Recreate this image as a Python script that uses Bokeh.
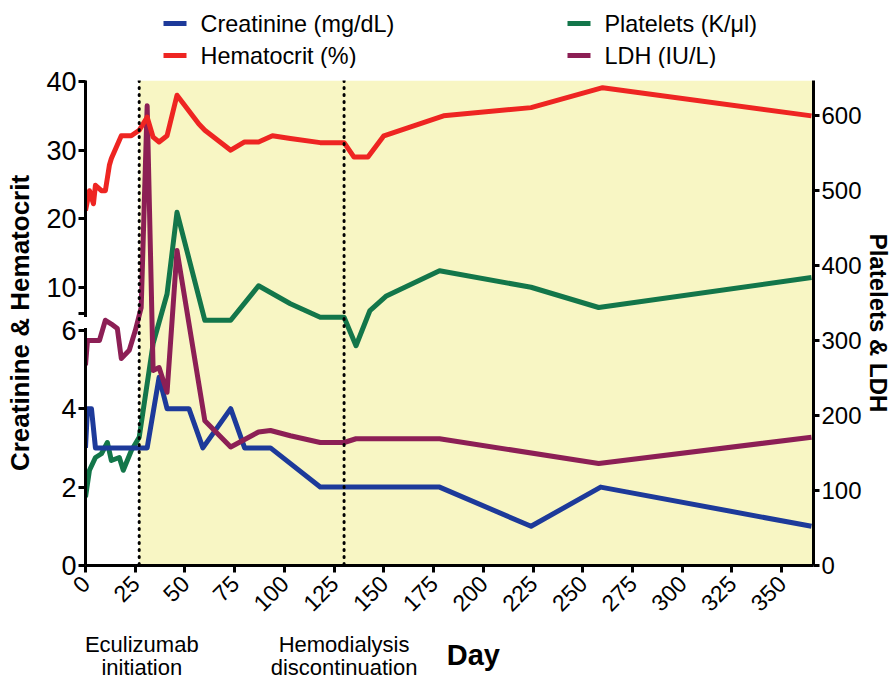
import math
from bokeh.plotting import figure
from bokeh.layouts import column
from bokeh.models import (Range1d, LinearAxis, FixedTicker, CustomJSTickFormatter,
                          Span, BoxAnnotation)
from bokeh.core.properties import value
from bokeh.embed import file_html
from bokeh.resources import INLINE

FONT = "Liberation Sans"

# ---------------- data ----------------
crea_day = [0, 1, 3, 5, 31, 37, 41, 52, 59, 73, 80, 93, 118, 178, 224, 259, 365]
crea = [3, 4, 4, 3, 3, 4.8, 4, 4, 3, 4, 3, 3, 2, 2, 1, 2, 1]

hct_day = [0, 2, 4, 5, 8, 10, 12, 13, 18, 23, 27, 31, 34, 37, 41, 46, 57, 60, 73, 80,
           87, 94, 103, 118, 130, 135, 142, 150, 180, 224, 260, 365]
hct = [21.2, 24.1, 22.2, 24.9, 24.1, 24.1, 27.8, 28.8, 32.1, 32.1, 32.9, 34.8, 31.9, 31.2,
       32.1, 38.0, 33.8, 32.9, 30.0, 31.2, 31.2, 32.1, 31.7, 31.1, 31.1, 29.0, 29.0, 32.1,
       35.0, 36.2, 39.1, 35.0]

plt_day = [0, 2, 5, 8, 11, 13, 17, 19, 23, 27, 34, 41, 46, 60, 73, 87, 103, 118, 130,
           136, 143, 151, 178, 224, 258, 365]
plt = [91, 127, 144, 149, 164, 140, 144, 127, 153, 171, 296, 362, 471, 327, 327, 373, 349,
       331, 331, 293, 340, 359, 393, 371, 344, 384]

ldh_day = [0, 1, 7, 10, 13, 16, 18, 22, 25, 28, 31, 34, 37, 41, 46, 60, 73, 87, 93, 103,
           118, 130, 136, 178, 258, 365]
ldh = [267, 300, 300, 327, 322, 316, 276, 287, 313, 344, 613, 260, 264, 231, 420, 193, 158,
       178, 180, 173, 164, 164, 169, 169, 136, 171]

series_labels = ["Creatinine (mg/dL)", "Hematocrit (%)", "Platelets (K/\u03bcl)", "LDH (IU/L)"]
C_CREA, C_HCT, C_PLT, C_LDH = "#1d3a9a", "#ee2522", "#13764a", "#8c1f55"
series_colors = [C_CREA, C_HCT, C_PLT, C_LDH]

x_ticks = list(range(0, 351, 25))
crea_ticks = [0, 2, 4, 6]
hct_ticks = [10, 20, 30, 40]
right_ticks = [0, 100, 200, 300, 400, 500, 600]

events = [27, 130]
event_line1 = ["Eculizumab", "Hemodialysis"]
event_line2 = ["initiation", "discontinuation"]
note_x = [28.3, 130]          # note centres (first nudged to stay inside the strip)
x_title = "Day"
x_title_day = 195

# ---------------- geometry ----------------
LEFT, FRAME_W, RIGHT = 85, 728, 77
TOP_H, TOP_B, FRAME_H, BOTTOM = 68, 12, 485, 64
NOTE_H = 51
CREA_END = 12.37
HCT_START, HCT_END = -30.48, 40.15
PL_END = 646.7
X_END = 366
BREAK_CAP = 6.43     # bottom of upper (hematocrit) axis segment
BREAK_MID = 6.21     # middle of the axis gap

def hct_to_crea(h):
    return (h - HCT_START) / (HCT_END - HCT_START) * CREA_END

def strip(fig):
    fig.outline_line_color = None
    fig.border_fill_color = "white"
    fig.background_fill_color = "white"
    fig.xgrid.visible = False
    fig.ygrid.visible = False
    fig.grid.grid_line_color = None

# ---------------- legend strip (top) ----------------
t = figure(frame_width=FRAME_W, frame_height=TOP_H,
           x_range=Range1d(LEFT, LEFT + FRAME_W), y_range=Range1d(TOP_H, 0),
           output_backend="svg", toolbar_location=None,
           min_border_left=LEFT, min_border_right=RIGHT, min_border_top=0,
           min_border_bottom=0, x_axis_location=None, y_axis_location=None)
strip(t)
leg_x = [163, 163, 567, 567]
leg_y = [23, 55, 23, 55]
t.segment(x0=leg_x, y0=leg_y, x1=[x + 23 for x in leg_x], y1=leg_y,
          line_color=series_colors, line_width=5)
t.text(x=[x + 37 for x in leg_x], y=leg_y, text=series_labels,
       text_baseline="middle", text_align="left", text_font=value(FONT),
       text_font_size="23.4px", text_color="black")

# ---------------- main chart ----------------
p = figure(frame_width=FRAME_W, frame_height=FRAME_H,
           x_range=Range1d(0, X_END), y_range=Range1d(0, CREA_END),
           output_backend="svg", toolbar_location=None,
           min_border_left=LEFT, min_border_top=TOP_B, min_border_right=RIGHT,
           min_border_bottom=BOTTOM)
p.extra_y_ranges = {"hct": Range1d(HCT_START, HCT_END), "pl": Range1d(0, PL_END)}
strip(p)

p.add_layout(BoxAnnotation(left=events[0], fill_color="#f8f6c4", fill_alpha=1.0,
                           line_color=None, level="underlay"))
for ev in events:
    p.add_layout(Span(location=ev, dimension="height", line_color="black",
                      line_width=3, line_dash="1 6", line_cap="round"))

p.line(plt_day, plt, y_range_name="pl", line_color=C_PLT, line_width=5, line_join="round")
p.line(crea_day, crea, line_color=C_CREA, line_width=5, line_join="round")
p.line(ldh_day, ldh, y_range_name="pl", line_color=C_LDH, line_width=5, line_join="round")
p.line(hct_day, hct, y_range_name="hct", line_color=C_HCT, line_width=5, line_join="round")

def style_axis(ax, label_size, title_size):
    ax.major_label_text_font = FONT
    ax.major_label_text_font_size = label_size
    ax.major_label_text_color = "black"
    ax.axis_label_text_font = FONT
    ax.axis_label_text_font_style = "bold"
    ax.axis_label_text_font_size = title_size
    ax.axis_label_text_color = "black"
    ax.axis_line_width = 3
    ax.axis_line_color = "black"
    ax.major_tick_line_width = 3
    ax.major_tick_line_color = "black"
    ax.major_tick_in = 0
    ax.major_tick_out = 7

xa = p.xaxis[0]
style_axis(xa, "23px", "26px")
xa.ticker = FixedTicker(ticks=x_ticks)
xa.major_label_orientation = math.pi / 4
xa.minor_tick_line_color = None
xa.major_label_standoff = 7

ya = p.yaxis[0]
style_axis(ya, "27px", "26px")
left_positions = crea_ticks + [BREAK_CAP] + [hct_to_crea(h) for h in hct_ticks]
ya.ticker = FixedTicker(ticks=left_positions, minor_ticks=[BREAK_MID])
ya.formatter = CustomJSTickFormatter(
    args=dict(ce=CREA_END, hs=HCT_START, he=HCT_END),
    code="""
    if (tick <= 6.01) { return tick.toFixed(0); }
    const h = hs + tick / ce * (he - hs);
    if (h < 9.9) { return ""; }
    return Math.round(h).toString();
    """)
ya.axis_label = "Creatinine & Hematocrit"
ya.axis_label_standoff = 8
ya.major_label_standoff = 2
ya.minor_tick_line_color = "white"
ya.minor_tick_line_width = 11
ya.minor_tick_in = 4
ya.minor_tick_out = 4

ra = LinearAxis(y_range_name="pl", ticker=FixedTicker(ticks=right_ticks),
                axis_label="Platelets & LDH")
style_axis(ra, "24px", "24px")
ra.major_tick_out = 6
ra.axis_label_standoff = 0
ra.major_label_standoff = 2
ra.minor_tick_line_color = None
p.add_layout(ra, "right")

# ---------------- notes strip (bottom), y measured down from its top ----------------
q = figure(frame_width=FRAME_W, frame_height=NOTE_H,
           x_range=p.x_range, y_range=Range1d(NOTE_H, 0),
           output_backend="svg", toolbar_location=None,
           min_border_left=LEFT, min_border_right=RIGHT, min_border_top=0,
           min_border_bottom=0, x_axis_location=None, y_axis_location=None)
strip(q)
q.text(x=note_x, y=[15] * len(note_x), text=event_line1, text_align="center",
       text_baseline="alphabetic", text_font=value(FONT), text_font_size="22px",
       text_color="black")
q.text(x=note_x, y=[38] * len(note_x), text=event_line2, text_align="center",
       text_baseline="alphabetic", text_font=value(FONT), text_font_size="22px",
       text_color="black")
q.text(x=[x_title_day], y=[25], text=[x_title], text_align="center",
       text_baseline="alphabetic", text_font=value(FONT), text_font_size="29px",
       text_font_style="bold", text_color="black")

layout = column(t, p, q, spacing=0)
open("out.html", "w").write(file_html(layout, INLINE))
